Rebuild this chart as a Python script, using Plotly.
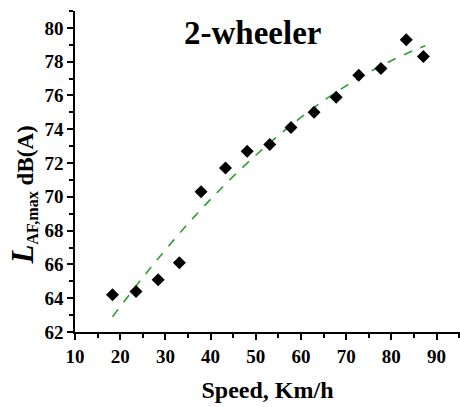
import plotly.graph_objects as go

speed = [18.3, 23.5, 28.4, 33.1, 37.9, 43.3, 48.1, 53.1, 57.8, 62.9, 67.8, 72.8, 77.7, 83.3, 87.1]
level = [64.2, 64.4, 65.1, 66.1, 70.3, 71.7, 72.7, 73.1, 74.1, 75.0, 75.9, 77.2, 77.6, 79.3, 78.3]

fit_x = [18.3, 25, 30, 35, 40, 45, 50, 55, 60, 65, 70, 75, 80, 85, 87.5]
fit_y = [62.9, 65.23, 66.86, 68.41, 69.85, 71.21, 72.46, 73.63, 74.70, 75.69, 76.57, 77.36, 78.06, 78.67, 78.94]

x_ticks = [10, 20, 30, 40, 50, 60, 70, 80, 90]
y_ticks = [62, 64, 66, 68, 70, 72, 74, 76, 78, 80]

fnt = "Liberation Serif"

fig = go.Figure()
fig.add_trace(go.Scatter(x=fit_x, y=fit_y, mode="lines", line=dict(color="#2ca02c", width=1.6, dash="dash", shape="spline"), showlegend=False))
fig.add_trace(go.Scatter(x=speed, y=level, mode="markers", marker=dict(symbol="diamond", color="black", size=10), showlegend=False))

axis_common = dict(showline=True, linecolor="black", linewidth=1.5, ticks="outside", ticklen=6, tickwidth=1.5,
                   tickcolor="black", showgrid=False, zeroline=False, mirror=False,
                   tickfont=dict(family=fnt, size=19, color="black", weight="bold"))

fig.update_xaxes(range=[10, 95.2], tickvals=x_ticks, minor=dict(dtick=5, tick0=10, ticklen=4, tickwidth=1.5, tickcolor="black", ticks="outside"),
                 title=dict(text="<b>Speed, Km/h</b>", font=dict(family=fnt, size=24, color="black"), standoff=16), **axis_common)
fig.update_yaxes(range=[62, 81], tickvals=y_ticks, minor=dict(dtick=1, tick0=62, ticklen=4, tickwidth=1.5, tickcolor="black", ticks="outside"),
                 **axis_common)

fig.add_annotation(text="<span style=\"font-size:31px\"><i>L</i></span><sub>AF,max</sub> dB(A)", textangle=-90, xref="paper", yref="paper",
                   x=-0.135, y=0.425, xanchor="center", yanchor="middle", showarrow=False,
                   font=dict(family=fnt, size=23, color="black", weight="bold"))
fig.add_annotation(text="<b>2-wheeler</b>", xref="paper", yref="paper", x=0.46, y=0.93, xanchor="center", yanchor="middle",
                   showarrow=False, font=dict(family=fnt, size=33, color="black"))

fig.update_layout(width=460, height=407, margin=dict(l=75, r=0, t=11, b=75),
                  plot_bgcolor="white", paper_bgcolor="white")

fig.write_html("out.html")
